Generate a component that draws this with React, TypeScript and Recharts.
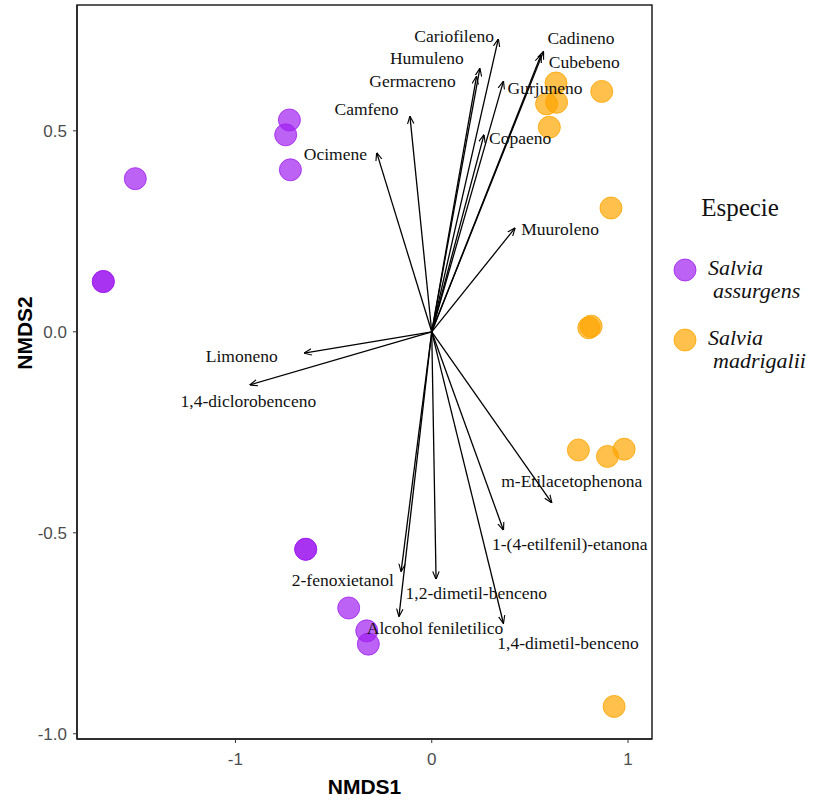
import { ReferenceArea, Scatter, ScatterChart, XAxis, YAxis } from 'recharts';

// NMDS site scores
const assurgensNmds1 = [-0.725, -0.744, -0.72, -1.51, -1.673, -1.673, -0.642, -0.642, -0.423, -0.331, -0.323];
const assurgensNmds2 = [0.527, 0.49, 0.403, 0.381, 0.125, 0.125, -0.541, -0.541, -0.687, -0.744, -0.777];
const madrigaliiNmds1 = [0.633, 0.585, 0.636, 0.599, 0.866, 0.913, 0.8, 0.812, 0.747, 0.895, 0.98, 0.929];
const madrigaliiNmds2 = [0.619, 0.567, 0.571, 0.509, 0.598, 0.308, 0.01, 0.014, -0.294, -0.31, -0.292, -0.932];

// fitted compound vectors (envfit) and where their labels sit
const compounds = [
  'Cariofileno', 'Humuleno', 'Germacreno', 'Camfeno', 'Ocimene', 'Cadineno', 'Cubebeno', 'Gurjuneno', 'Copaeno',
  'Muuroleno', 'Limoneno', '1,4-diclorobenceno', 'm-Etilacetophenona', '1-(4-etilfenil)-etanona', '2-fenoxietanol',
  '1,2-dimetil-benceno', 'Alcohol feniletilico', '1,4-dimetil-benceno'
];
const arrowNmds1 = [0.339, 0.245, 0.228, -0.111, -0.28, 0.569, 0.557, 0.365, 0.266, 0.424, -0.65, -0.926, 0.611, 0.365, -0.156, 0.022, -0.167, 0.365];
const arrowNmds2 = [0.728, 0.655, 0.635, 0.536, 0.445, 0.697, 0.689, 0.623, 0.49, 0.258, -0.053, -0.132, -0.425, -0.493, -0.596, -0.615, -0.708, -0.725];
const labelNmds1 = [0.114, -0.025, -0.098, -0.332, -0.491, 0.76, 0.777, 0.577, 0.45, 0.654, -0.968, -0.934, 0.713, 0.703, -0.453, 0.227, 0.017, 0.694];
const labelNmds2 = [0.735, 0.681, 0.624, 0.555, 0.443, 0.731, 0.672, 0.606, 0.483, 0.255, -0.06, -0.173, -0.372, -0.527, -0.617, -0.65, -0.737, -0.774];

const species = ['Salvia assurgens', 'Salvia madrigalii'];
const speciesColors = ['#a020f0', '#ffa500'];

const xDomain = [-1.807, 1.122];
const yDomain = [-1.013, 0.813];
const xTicks = [-1, 0, 1];
const yTicks = [-1, -0.5, 0, 0.5];

const serif = '"Liberation Serif", "Times New Roman", serif';
const sans = '"Liberation Sans", Arial, sans-serif';

const toPoints = (xs: number[], ys: number[]) => xs.map((x, i) => ({ x, y: ys[i] }));

const assurgens = toPoints(assurgensNmds1, assurgensNmds2);
const madrigalii = toPoints(madrigaliiNmds1, madrigaliiNmds2);
const labels = compounds.map((name, i) => ({ x: labelNmds1[i], y: labelNmds2[i], name }));

const dot = (color: string) => (p: any) =>
  <circle cx={p.cx} cy={p.cy} r={11} fill={color} fillOpacity={0.7} stroke={color} strokeOpacity={0.8} strokeWidth={1} />;

const Legend = () => (
  <svg width={172} height={802} style={{ position: 'absolute', left: 652, top: 0 }}>
    <text x={88} y={207} textAnchor="middle" dominantBaseline="central" fontFamily={serif} fontSize={25} fill="#111">
      Especie
    </text>
    {species.map((s, i) => {
      const cy = 270 + i * 70;
      const [genus, epithet] = s.split(' ');
      return (
        <g key={s}>
          <circle cx={33} cy={cy} r={11} fill={speciesColors[i]} fillOpacity={0.7} stroke={speciesColors[i]} strokeOpacity={0.8} />
          <text fontFamily={serif} fontStyle="italic" fontSize={22} fill="#111">
            <tspan x={56} y={cy - 3} dominantBaseline="central">{genus}</tspan>
            <tspan x={61} y={cy + 20} dominantBaseline="central">{epithet}</tspan>
          </text>
        </g>
      );
    })}
  </svg>
);

export default function App() {
  return (
    <div style={{ position: 'absolute', left: 0, top: 0, width: 824, height: 802, background: '#fff' }}>
      <svg width={0} height={0} style={{ position: 'absolute' }}>
        <defs>
          <marker id="nmdsArrow" viewBox="0 0 10 10" refX={9.5} refY={5} markerWidth={8} markerHeight={8}
            markerUnits="userSpaceOnUse" orient="auto">
            <path d="M0,1 L10,5 L0,9" fill="none" stroke="#000" strokeWidth={1.4} />
          </marker>
        </defs>
      </svg>
      <ScatterChart width={824} height={802} margin={{ top: 5, right: 172, bottom: 0, left: 0 }}>
        <XAxis
          dataKey="x"
          type="number"
          domain={xDomain}
          ticks={xTicks}
          allowDataOverflow
          height={63}
          tickSize={4}
          tickMargin={10}
          tick={{ fill: '#4d4d4d', fontSize: 17, fontFamily: sans }}
          tickLine={{ stroke: '#333' }}
          axisLine={{ stroke: '#222', strokeWidth: 1.5 }}
          label={{ value: 'NMDS1', position: 'insideBottom', offset: 8, style: { fontFamily: sans, fontWeight: 'bold', fontSize: 21, fill: '#000' } }}
        />
        <YAxis
          dataKey="y"
          type="number"
          domain={yDomain}
          ticks={yTicks}
          allowDataOverflow
          width={77}
          tickSize={4}
          tickMargin={6}
          tickFormatter={(v: number) => v.toFixed(1)}
          tick={{ fill: '#4d4d4d', fontSize: 17, fontFamily: sans }}
          tickLine={{ stroke: '#333' }}
          axisLine={{ stroke: '#222', strokeWidth: 1.5 }}
          label={{
            content: () => (
              <text x={24} y={333} transform="rotate(-90 24 333)" textAnchor="middle" dominantBaseline="central"
                fontFamily={sans} fontWeight="bold" fontSize={21} fill="#000">
                NMDS2
              </text>
            )
          }}
        />
        <ReferenceArea x1={xDomain[0]} x2={xDomain[1]} y1={yDomain[0]} y2={yDomain[1]} fill="none" stroke="#222" strokeWidth={1.5} />
        <Scatter name={species[0]} data={assurgens} shape={dot(speciesColors[0])} isAnimationActive={false} />
        <Scatter name={species[1]} data={madrigalii} shape={dot(speciesColors[1])} isAnimationActive={false} />
        {compounds.map((c, i) => (
          <Scatter
            key={c}
            data={[{ x: 0, y: 0 }, { x: arrowNmds1[i], y: arrowNmds2[i] }]}
            line={{ stroke: '#000', strokeWidth: 1.3, markerEnd: 'url(#nmdsArrow)' }}
            shape={() => <g />}
            legendType="none"
            isAnimationActive={false}
          />
        ))}
        <Scatter
          data={labels}
          shape={(p: any) => (
            <text x={p.cx} y={p.cy} textAnchor="middle" dominantBaseline="central" fontFamily={serif} fontSize={17.5} fill="#111">
              {p.payload.name}
            </text>
          )}
          isAnimationActive={false}
        />
      </ScatterChart>
      <Legend />
    </div>
  );
}
